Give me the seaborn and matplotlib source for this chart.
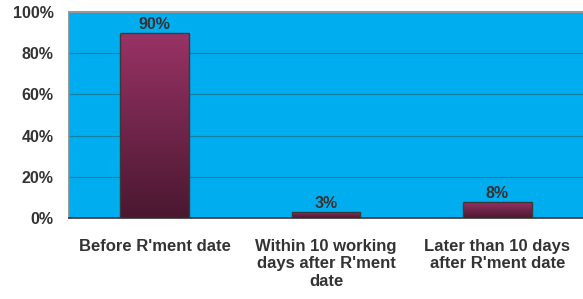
import numpy as np
import pandas as pd
import matplotlib
matplotlib.use("Agg")
import matplotlib.pyplot as plt
import seaborn as sns
from matplotlib.colors import LinearSegmentedColormap

sns.set_style("white")
plt.rcParams['font.family'] = ['Liberation Sans', 'DejaVu Sans']

categories = ["Before R'ment date",
              "Within 10 working\ndays after R'ment\ndate",
              "Later than 10 days\nafter R'ment date"]
shares = [90, 3, 8]
yticks = [0, 20, 40, 60, 80, 100]

df = pd.DataFrame({'category': categories, 'share': shares})

fig = plt.figure(figsize=(5.83, 2.99), dpi=100)
ax = fig.add_axes([69/583, 81/299, 514/583, 206/299])
ax.set_facecolor('#00AEEF')

sns.barplot(data=df, x='category', y='share', width=0.40, color='#993366',
            edgecolor='#3a3a3a', linewidth=1.0, ax=ax, zorder=3)

# gradient fill inside each bar
grad = LinearSegmentedColormap.from_list('g', ['#4a1830', '#993366'])
ramp = np.linspace(0, 1, 256).reshape(-1, 1)
for p in ax.patches:
    x0, y0 = p.get_x(), p.get_y()
    w, h = p.get_width(), p.get_height()
    im = ax.imshow(ramp, cmap=grad, origin='lower', aspect='auto',
                   extent=[x0, x0 + w, y0, y0 + h], zorder=3.5)
    im.set_clip_path(p)
    p.set_facecolor('none')
    p.set_zorder(4)

for i, v in enumerate(shares):
    ax.text(i, v + 0.2, f'{v}%', ha='center', va='bottom', fontsize=11.5,
            fontweight='bold', color='#333333', zorder=5)

ax.set_xlim(-0.5, 2.5)
ax.set_ylim(0, 100)
ax.set_yticks(yticks)
ax.set_yticklabels([f'{t}%' for t in yticks])
ax.yaxis.grid(True, color='#1583a8', linewidth=0.9, zorder=1)
ax.set_axisbelow(True)

ax.set_xticks([0, 1, 2])
ax.set_xticklabels(categories, fontsize=12, fontweight='bold', color='#333333',
                   linespacing=1.22, va='top')
ax.tick_params(axis='x', length=0, pad=15)
ax.set_xticks([0.5, 1.5], minor=True)
ax.tick_params(axis='x', which='minor', length=6, color='#888888', direction='inout')
ax.tick_params(axis='y', length=5, color='#888888', pad=6, labelsize=11.5,
               labelcolor='#333333')
for lbl in ax.get_yticklabels():
    lbl.set_fontweight('bold')

ax.set_xlabel('')
ax.set_ylabel('')
ax.spines['right'].set_visible(False)
ax.spines['top'].set_color('#999999')
ax.spines['top'].set_linewidth(1.5)
ax.spines['left'].set_color('#888888')
ax.spines['left'].set_linewidth(1.2)
ax.spines['bottom'].set_color('#333333')
ax.spines['bottom'].set_linewidth(1.2)

fig.savefig('out.png', dpi=100)
